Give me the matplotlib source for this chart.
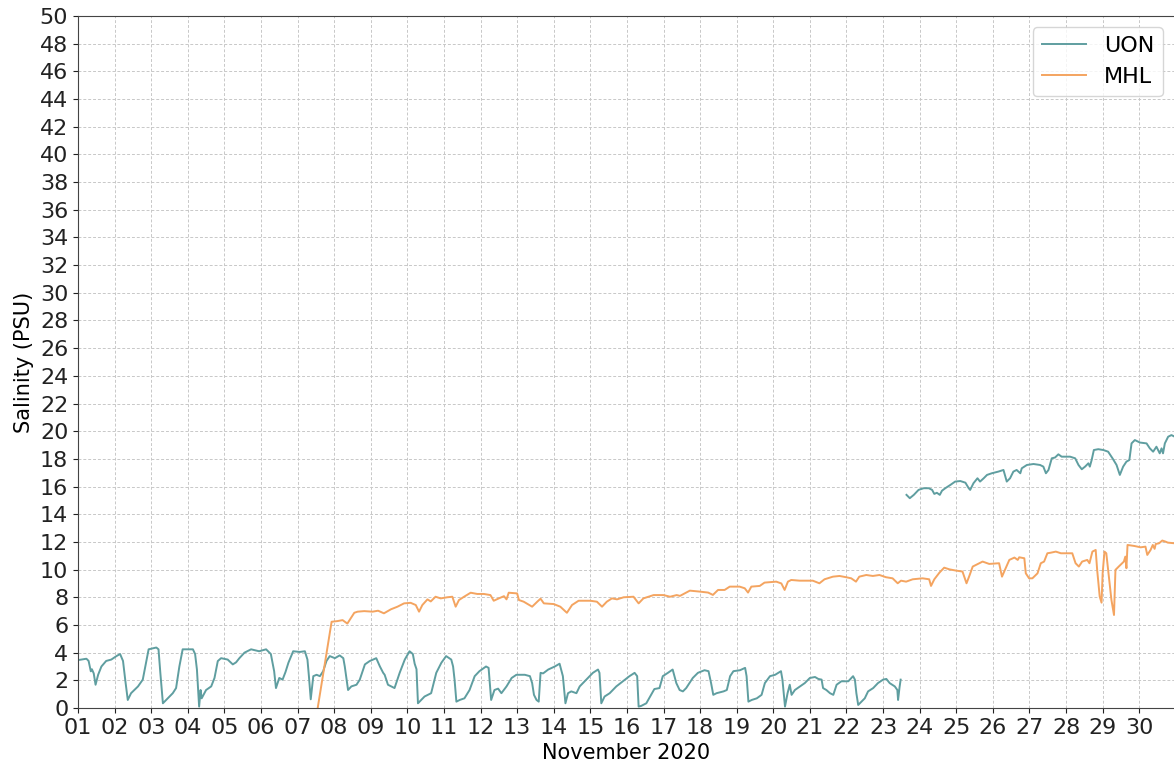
#!/usr/bin/env python
# salinity time series, UON vs MHL loggers, November 2020

import numpy as np
import pandas as pd
import matplotlib
matplotlib.use("Agg")
from matplotlib import pyplot as plt
import matplotlib.dates as mdates

# times are fractional day-of-month in November 2020 (1.0 = Nov 1 00:00)
uon1_day = [1.0, 1.23, 1.29, 1.35, 1.38, 1.43, 1.48, 1.55, 1.64, 1.77, 1.91, 2.05, 2.15, 2.23, 2.29, 2.36,
            2.45, 2.64, 2.77, 2.86, 2.93, 3.14, 3.2, 3.25, 3.32, 3.41, 3.59, 3.68, 3.77, 3.86, 4.14, 4.2,
            4.25, 4.31, 4.35, 4.38, 4.5, 4.64, 4.73, 4.82, 4.91, 5.09, 5.23, 5.32, 5.41, 5.55, 5.73, 5.95,
            6.14, 6.27, 6.36, 6.41, 6.5, 6.59, 6.67, 6.75, 6.88, 7.06, 7.2, 7.27, 7.31, 7.36, 7.43, 7.52,
            7.61, 7.7, 7.79, 7.88, 8.02, 8.15, 8.25, 8.29, 8.34, 8.38, 8.47, 8.61, 8.7, 8.84, 8.97, 9.15,
            9.25, 9.34, 9.38, 9.47, 9.56, 9.65, 9.79, 9.93, 10.06, 10.15, 10.2, 10.25, 10.29, 10.38, 10.47,
            10.65, 10.79, 10.93, 11.06, 11.2, 11.25, 11.29, 11.34, 11.43, 11.56, 11.7, 11.84, 11.97, 12.15,
            12.22, 12.29, 12.38, 12.48, 12.57, 12.71, 12.85, 12.98, 13.21, 13.35, 13.41, 13.46, 13.53,
            13.59, 13.64, 13.71, 13.85, 14.03, 14.16, 14.25, 14.32, 14.39, 14.48, 14.62, 14.71, 14.89,
            15.07, 15.21, 15.25, 15.3, 15.39, 15.53, 15.71, 15.89, 16.07, 16.21, 16.28, 16.32, 16.39,
            16.53, 16.66, 16.75, 16.89, 16.98, 17.12, 17.25, 17.35, 17.44, 17.53, 17.62, 17.8, 17.94,
            18.12, 18.23, 18.3, 18.36, 18.45, 18.64, 18.73, 18.82, 18.91, 19.09, 19.23, 19.27, 19.32,
            19.41, 19.55, 19.68, 19.77, 19.91, 20.05, 20.21, 20.25, 20.32, 20.39, 20.45, 20.5, 20.59,
            20.73, 20.86, 21.0, 21.14, 21.23, 21.32, 21.36, 21.45, 21.55, 21.64, 21.73, 21.86, 22.05,
            22.18, 22.23, 22.27, 22.32, 22.41, 22.5, 22.59, 22.73, 22.86, 23.0, 23.09, 23.18, 23.32,
            23.39, 23.41, 23.45, 23.48]
uon1_val = [3.46, 3.56, 3.4, 2.65, 2.8, 2.5, 1.68, 2.4, 3.0, 3.4, 3.5, 3.75, 3.9, 3.4, 2.05, 0.58,
            1.07, 1.56, 2.05, 3.27, 4.24, 4.37, 4.24, 2.54, 0.34, 0.58, 1.07, 1.44, 3.0, 4.24, 4.24, 3.9,
            2.78, 0.1, 1.3, 0.7, 1.3, 1.56, 2.17, 3.39, 3.6, 3.5, 3.15, 3.3, 3.6, 4.0, 4.24, 4.1,
            4.24, 3.9, 2.66, 1.44, 2.17, 2.05, 2.6, 3.27, 4.1, 4.05, 4.1, 3.5, 2.3, 0.63, 2.3, 2.4,
            2.3, 2.66, 3.4, 3.75, 3.6, 3.8, 3.6, 3.0, 2.05, 1.3, 1.56, 1.68, 2.05, 3.15, 3.39, 3.6,
            3.0, 2.54, 2.4, 1.68, 1.56, 1.44, 2.54, 3.5, 4.1, 3.9, 3.2, 2.8, 0.34, 0.58, 0.83,
            1.07, 2.54, 3.27, 3.75, 3.5, 3.0, 2.05, 0.46, 0.58, 0.7, 1.3, 2.3, 2.66, 3.0,
            2.9, 0.58, 1.3, 1.4, 1.07, 1.56, 2.17, 2.4, 2.4, 2.3, 1.8, 0.95, 0.58,
            0.46, 2.54, 2.5, 2.78, 3.0, 3.2, 2.3, 0.34, 1.07, 1.2, 1.07, 1.56, 2.05,
            2.54, 2.78, 2.54, 0.34, 0.83, 1.07, 1.56, 1.93, 2.3, 2.54, 2.3, 0.1, 0.15,
            0.34, 0.95, 1.37, 1.44, 2.3, 2.54, 2.78, 1.8, 1.3, 1.2, 1.44, 2.17, 2.54,
            2.73, 2.66, 1.8, 0.95, 1.07, 1.2, 1.3, 2.3, 2.66, 2.73, 2.9, 2.3, 0.46,
            0.58, 0.7, 0.95, 1.8, 2.3, 2.4, 2.66, 2.05, 0.1, 1.07, 1.68, 0.95, 1.3,
            1.56, 1.8, 2.17, 2.24, 2.1, 2.05, 1.44, 1.3, 1.07, 0.95, 1.68, 1.93, 1.93,
            2.3, 2.05, 1.07, 0.22, 0.46, 0.7, 1.2, 1.44, 1.8, 2.05, 2.1, 1.8, 1.56,
            1.3, 0.58, 1.5, 2.05]

uon2_day = [23.64, 23.73, 23.84, 23.97, 24.11, 24.25, 24.34, 24.4, 24.47, 24.55, 24.61, 24.7, 24.84,
            24.97, 25.11, 25.25, 25.34, 25.38, 25.47, 25.58, 25.65, 25.75, 25.84, 25.97, 26.15, 26.29,
            26.38, 26.47, 26.56, 26.65, 26.75, 26.79, 26.93, 27.11, 27.29, 27.38, 27.45, 27.52, 27.61,
            27.7, 27.79, 27.88, 28.11, 28.25, 28.34, 28.43, 28.52, 28.61, 28.65, 28.7, 28.76, 28.88,
            29.02, 29.15, 29.27, 29.38, 29.47, 29.56, 29.65, 29.73, 29.79, 29.88, 30.02, 30.2, 30.29,
            30.38, 30.47, 30.56, 30.61, 30.65, 30.7, 30.79, 30.88, 30.97]
uon2_val = [15.4, 15.16, 15.4, 15.76, 15.88, 15.88, 15.76, 15.47, 15.55, 15.4, 15.7, 15.88, 16.12,
            16.36, 16.4, 16.28, 15.88, 15.76, 16.24, 16.6, 16.36, 16.6, 16.84, 16.96, 17.08, 17.2,
            16.36, 16.6, 17.08, 17.2, 16.96, 17.32, 17.56, 17.63, 17.56, 17.44, 16.96, 17.2, 18.04,
            18.1, 18.33, 18.16, 18.16, 18.04, 17.56, 17.25, 17.44, 17.68, 17.44, 17.92, 18.64, 18.7,
            18.64, 18.52, 18.04, 17.56, 16.84, 17.44, 17.8, 17.92, 19.12, 19.36, 19.18, 19.12, 18.76,
            18.52, 18.88, 18.4, 18.76, 18.4, 19.12, 19.6, 19.72, 19.6]

mhl_day = [7.55, 7.93, 8.09, 8.23, 8.36, 8.45, 8.55, 8.64, 8.82, 9.05, 9.2, 9.36, 9.55, 9.73, 9.91,
           10.09, 10.23, 10.32, 10.41, 10.55, 10.64, 10.77, 10.91, 11.09, 11.23, 11.32, 11.41, 11.55,
           11.73, 11.91, 12.09, 12.27, 12.36, 12.5, 12.64, 12.71, 12.77, 13.0, 13.05, 13.18, 13.41,
           13.55, 13.64, 13.73, 14.0, 14.18, 14.36, 14.5, 14.68, 15.0, 15.18, 15.32, 15.45, 15.59,
           15.73, 15.91, 16.18, 16.32, 16.45, 16.73, 17.0, 17.18, 17.36, 17.45, 17.72, 17.99, 18.22,
           18.35, 18.49, 18.67, 18.81, 19.08, 19.22, 19.31, 19.4, 19.63, 19.76, 20.08, 20.22, 20.31,
           20.4, 20.49, 20.72, 21.08, 21.26, 21.4, 21.63, 21.81, 21.99, 22.13, 22.26, 22.35, 22.54,
           22.72, 22.9, 23.08, 23.26, 23.4, 23.49, 23.63, 23.81, 24.08, 24.26, 24.31, 24.4, 24.54,
           24.67, 24.81, 24.99, 25.17, 25.28, 25.35, 25.45, 25.59, 25.72, 25.9, 26.17, 26.25, 26.31,
           26.45, 26.59, 26.68, 26.72, 26.86, 26.9, 26.99, 27.08, 27.22, 27.31, 27.4, 27.49, 27.58,
           27.72, 27.86, 27.99, 28.17, 28.26, 28.35, 28.44, 28.58, 28.64, 28.72, 28.81, 28.85, 28.92,
           28.97, 29.0, 29.05, 29.1, 29.17, 29.24, 29.31, 29.35, 29.44, 29.58, 29.62, 29.65, 29.68,
           29.86, 30.04, 30.17, 30.22, 30.31, 30.37, 30.42, 30.45, 30.54, 30.63, 30.72, 30.78, 30.97]
mhl_val = [0.0, 6.23, 6.28, 6.35, 6.1, 6.47, 6.88, 6.96, 7.0, 6.96, 7.03, 6.84, 7.13, 7.32, 7.56,
           7.6, 7.44, 6.96, 7.44, 7.85, 7.7, 8.04, 7.92, 8.0, 8.04, 7.32, 7.8, 8.04,
           8.33, 8.24, 8.24, 8.16, 7.75, 7.92, 8.08, 7.85, 8.33, 8.28, 7.8, 7.68, 7.32,
           7.68, 7.9, 7.56, 7.51, 7.32, 6.88, 7.44, 7.75, 7.75, 7.68, 7.32, 7.68, 7.92,
           7.85, 8.0, 8.04, 7.56, 7.92, 8.16, 8.16, 8.04, 8.16, 8.1, 8.48, 8.41, 8.34,
           8.17, 8.53, 8.53, 8.77, 8.77, 8.65, 8.34, 8.77, 8.82, 9.06, 9.13, 9.0, 8.53,
           9.13, 9.25, 9.2, 9.2, 9.01, 9.3, 9.49, 9.54, 9.45, 9.37, 9.13, 9.49, 9.61,
           9.54, 9.61, 9.45, 9.37, 9.01, 9.2, 9.13, 9.3, 9.37, 9.3, 8.82, 9.3, 9.78,
           10.14, 10.02, 9.93, 9.86, 9.01, 9.49, 10.22, 10.41, 10.58, 10.41, 10.46, 9.49, 9.86,
           10.7, 10.87, 10.7, 10.89, 10.82, 9.73, 9.37, 9.37, 9.73, 10.46, 10.58, 11.18, 11.22,
           11.3, 11.18, 11.18, 11.18, 10.46, 10.22, 10.58, 10.7, 10.46, 11.3, 11.42, 9.98, 8.05,
           7.61, 9.73, 11.3, 11.18, 9.49, 7.81, 6.72, 9.98, 10.22, 10.58, 10.94, 10.1, 11.78,
           11.71, 11.61, 11.66, 11.06, 11.42, 11.78, 11.5, 11.85, 11.9, 12.1, 12.02, 11.95, 11.9]

start = pd.Timestamp("2020-11-01")


def to_time(days):
    return start + pd.to_timedelta(np.array(days) - 1.0, unit="D")


uon_color = "#5f9ea0"
mhl_color = "#f4a460"

fig = plt.figure(figsize=(11.74, 7.69), dpi=100)
ax = fig.add_axes([78 / 1174, 61 / 769, 1096 / 1174, 692 / 769])

ax.plot(to_time(uon1_day), uon1_val, color=uon_color, lw=1.4, label="UON")
ax.plot(to_time(uon2_day), uon2_val, color=uon_color, lw=1.4)
ax.plot(to_time(mhl_day), mhl_val, color=mhl_color, lw=1.4, label="MHL")

ax.set_xlim(to_time([1.0])[0], to_time([30.95])[0])
ax.set_ylim(0, 50)
ax.set_yticks(np.arange(0, 51, 2))
ax.xaxis.set_major_locator(mdates.DayLocator())
ax.xaxis.set_major_formatter(mdates.DateFormatter("%d"))
ax.tick_params(labelsize=16, colors="#222222")

ax.grid(True, linestyle=(0, (3, 2)), color="#c8c8c8", linewidth=0.7)
for s in ax.spines.values():
    s.set_color("#444444")
ax.spines["right"].set_visible(False)

ax.set_xlabel("November 2020", fontsize=15, labelpad=4)
ax.set_ylabel("Salinity (PSU)", fontsize=15)
ax.legend(loc="upper right", fontsize=16, bbox_to_anchor=(1.0, 1.0))

fig.savefig("out.png", dpi=100)
